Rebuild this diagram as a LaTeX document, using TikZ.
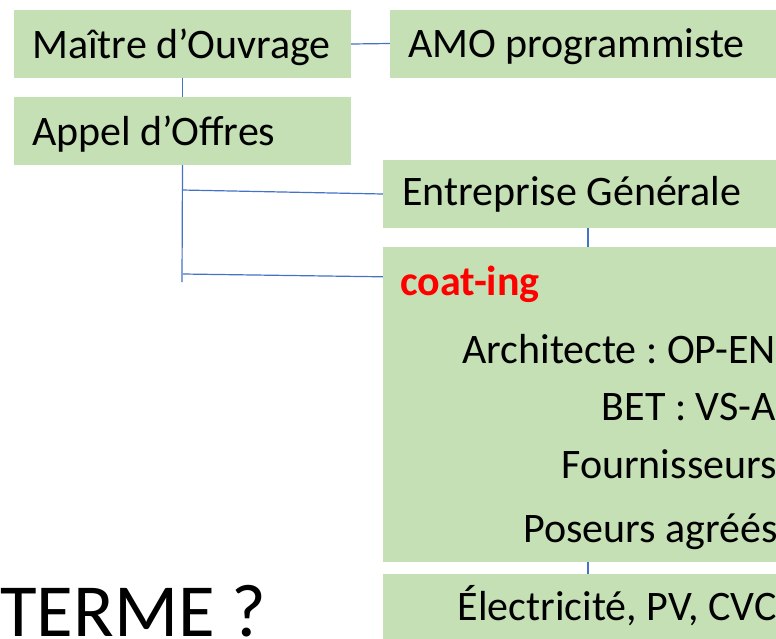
\documentclass[tikz,border=0pt]{standalone}
\usepackage{fontspec}
\setmainfont{Carlito}
\frenchspacing
\definecolor{boxgreen}{HTML}{C5E0B4}
\definecolor{linkblue}{HTML}{4472C4}
\definecolor{coatred}{HTML}{FF0000}
\begin{document}
\begin{tikzpicture}[x=1pt,y=-1pt]
  \tikzstyle{box}=[fill=boxgreen,inner sep=0pt,minimum height=68pt];
  \tikzstyle{txt}=[inner sep=0pt,font=\fontsize{42}{50}\selectfont];
  \tikzstyle{link}=[draw=linkblue,line width=1.2pt];
  \useasboundingbox (0,0) rectangle (776,638);
  \clip (0,0) rectangle (776,638);
  % boxes
  \node[box,minimum width=337pt] (maitre) at (182.5,44) {};
  \node[box,minimum width=410pt] (amo) at (595,43.5) {};
  \node[box,minimum width=337pt] (appel) at (182.5,131) {};
  \node[box,minimum width=410pt] (ent) at (588,194) {};
  \node[box,minimum width=410pt,minimum height=315pt] (coat) at (588,404.5) {};
  \node[box,minimum width=410pt,minimum height=70pt] (elec) at (588,609) {};
  % texts
  \node[txt,anchor=base west] (tmaitre) at (32,58) {Maître d’Ouvrage};
  \node[txt,anchor=base west] (tamo) at (408,57) {AMO programmiste};
  \node[txt,anchor=base west] (tappel) at (32,145) {Appel d’Offres};
  \node[txt,anchor=base west] (tent) at (402,205) {Entreprise Générale};
  \node[txt,anchor=base west,text=coatred] (tcoat) at (400,295) {\bfseries coat-ing};
  \node[txt,anchor=base east] (tarchi) at (776,363) {Architecte : OP-EN};
  \node[txt,anchor=base east] (tbet) at (776,420) {BET : VS-A};
  \node[txt,anchor=base east] (tfour) at (777,478) {Fournisseurs};
  \node[txt,anchor=base east] (tpose) at (778,542) {Poseurs agréés};
  \node[txt,anchor=base east] (telec) at (777,620) {Électricité, PV, CVC};
  \node[txt,anchor=base west,font=\fontsize{75}{90}\selectfont] (terme) at (0,636) {TERME ?};
  % links
  \coordinate (tige) at (182,282);
  \coordinate (b1) at (182,190);
  \coordinate (b2) at (183,274);
  \draw[link] (maitre.east) -- (amo.west);
  \draw[link] (maitre.south) -- (appel.north);
  \draw[link] (appel.south) -- (tige);
  \draw[link] (b1) -- (ent.west);
  \draw[link] (b2) -- ([yshift=-30pt]coat.north west);
  \draw[link] (ent.south) -- (coat.north);
  \draw[link] (coat.south) -- (elec.north);
\end{tikzpicture}
\end{document}
